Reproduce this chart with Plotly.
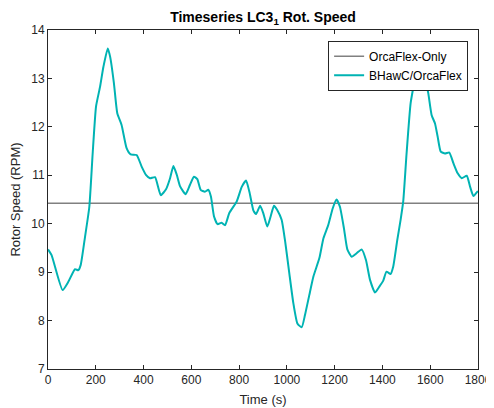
import plotly.graph_objects as go

time_s = [0, 15, 61, 85, 113, 127, 137, 155, 173, 187, 201, 218, 232, 250, 260, 276, 290, 308, 329, 346,
          371, 392, 410, 427, 448, 472, 494, 511, 525, 539, 553, 576, 594, 611, 625, 639, 657, 671, 682, 695,
          710, 727, 741, 759, 790, 811, 829, 843, 860, 871, 888, 901, 918, 932, 946, 960, 978, 992, 1010, 1027,
          1044, 1062, 1076, 1094, 1111, 1136, 1153, 1173, 1192, 1208, 1222, 1239, 1253, 1271, 1292, 1313, 1331, 1348, 1369, 1387,
          1403, 1417, 1434, 1445, 1462, 1476, 1487, 1501, 1518, 1536, 1550, 1562, 1578, 1592, 1606, 1620, 1631, 1644, 1662, 1680,
          1697, 1715, 1732, 1753, 1767, 1781, 1797, 1800]
bhawc_rpm = [9.47, 9.35, 8.63, 8.80, 9.06, 9.04, 9.15, 9.73, 10.35, 11.45, 12.42, 12.83, 13.24, 13.62, 13.45, 12.90, 12.28, 12.04, 11.56, 11.43,
             11.42, 11.18, 11.01, 10.94, 10.96, 10.59, 10.71, 10.94, 11.19, 11.01, 10.77, 10.61, 10.80, 10.97, 10.92, 10.70, 10.66, 10.70, 10.56, 10.15,
             9.99, 10.02, 9.97, 10.22, 10.46, 10.76, 10.89, 10.66, 10.27, 10.20, 10.37, 10.22, 9.94, 10.15, 10.37, 10.28, 10.08, 9.66, 8.98, 8.36,
             7.94, 7.86, 8.12, 8.53, 8.91, 9.29, 9.70, 9.97, 10.32, 10.50, 10.35, 9.90, 9.47, 9.32, 9.39, 9.47, 9.25, 8.84, 8.58, 8.70,
             8.82, 9.01, 8.96, 9.11, 9.66, 10.08, 10.46, 11.45, 12.49, 13.00, 13.45, 13.55, 13.04, 12.69, 12.24, 12.07, 11.80, 11.49, 11.45, 11.47,
             11.25, 11.04, 10.94, 10.99, 10.76, 10.57, 10.66, 10.67]
orcaflex_only_rpm = 10.42
x_ticks = [0, 200, 400, 600, 800, 1000, 1200, 1400, 1600, 1800]
y_ticks = [7, 8, 9, 10, 11, 12, 13, 14]

fig = go.Figure()
fig.add_trace(go.Scatter(x=[0, 1800], y=[orcaflex_only_rpm, orcaflex_only_rpm], mode="lines",
                         name="OrcaFlex-Only", line=dict(color="#808080", width=1.5)))
fig.add_trace(go.Scatter(x=time_s, y=bhawc_rpm, mode="lines", name="BHawC/OrcaFlex",
                         line=dict(color="#00B3B3", width=2, shape="spline", smoothing=0.5)))

axis_common = dict(showgrid=False, zeroline=False, showline=True, linecolor="#262626", linewidth=1,
                   mirror="ticks", ticks="inside", ticklen=4, tickcolor="#262626", automargin=False,
                   tickfont=dict(size=12, color="#262626"))
fig.update_xaxes(range=[0, 1800], tickvals=x_ticks,
                 title=dict(text="Time (s)", font=dict(size=13, color="#262626"), standoff=8),
                 **axis_common)
fig.update_yaxes(range=[7, 14], tickvals=y_ticks,
                 title=dict(text="Rotor Speed (RPM)", font=dict(size=13, color="#262626"), standoff=7),
                 **axis_common)

# page body has an 8px margin, so the figure is 8px smaller and margins compensate
fig.update_layout(
    width=486, height=400,
    margin=dict(l=40, r=16, t=22, b=39),
    paper_bgcolor="white", plot_bgcolor="white",
    font=dict(family="Liberation Sans, Arial, sans-serif", color="#262626"),
    title=dict(text="<b>Timeseries LC3<sub>1</sub> Rot. Speed</b>", xref="paper", x=0.5, xanchor="center",
               yref="container", y=0.978, yanchor="middle",
               font=dict(size=14, color="black")),
    legend=dict(x=0.977, y=0.968, xanchor="right", yanchor="top", bgcolor="white",
                bordercolor="#262626", borderwidth=1, font=dict(size=12, color="black"),
                tracegroupgap=0, itemwidth=30),
    showlegend=True,
)

fig.write_html("out.html")
